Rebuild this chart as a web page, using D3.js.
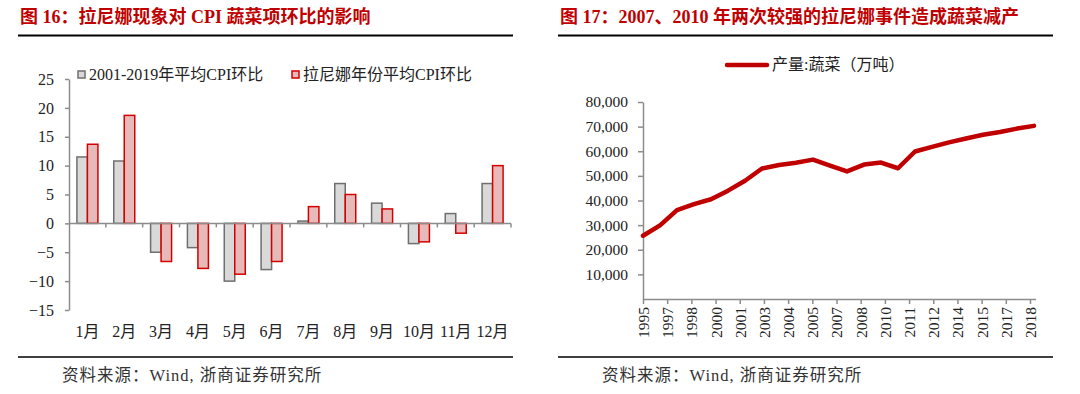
<!DOCTYPE html>
<html>
<head>
<meta charset="utf-8">
<script src="https://cdn.jsdelivr.net/npm/d3@7"></script>
<style>
  body { margin: 0; background: #fff; }
  svg { display: block; }
  text { font-family: "Liberation Serif", "Noto Sans CJK SC", serif; fill: #222; }
</style>
</head>
<body>
<svg id="chart" width="1080" height="394"></svg>
<script>
// left chart data
var months = ["1月", "2月", "3月", "4月", "5月", "6月", "7月", "8月", "9月", "10月", "11月", "12月"];
var avgCpi = [11.5, 10.8, -5.0, -4.2, -10.0, -8.0, 0.4, 6.9, 3.5, -3.5, 1.7, 6.9];
var ninaCpi = [13.7, 18.7, -6.6, -7.8, -8.8, -6.6, 2.9, 5.0, 2.5, -3.2, -1.7, 10.0];
var leftTicks = [-15, -10, -5, 0, 5, 10, 15, 20, 25];
var leftSeries = ["2001-2019年平均CPI环比", "拉尼娜年份平均CPI环比"];

// right chart data
var years = [1995, 1996, 1997, 1998, 1999, 2000, 2001, 2002, 2003, 2004, 2005, 2006,
             2007, 2008, 2009, 2010, 2011, 2012, 2013, 2014, 2015, 2016, 2017, 2018];
var vegOutput = [25700, 29900, 36100, 38500, 40500, 44000, 48000, 53000, 54400, 55300, 56600, 54200,
                 51800, 54600, 55400, 53100, 59900, 61800, 63600, 65200, 66700, 67800, 69200, 70300];
var yearLabels = ["1995", "1997", "1998", "2000", "2001", "2003", "2004", "2005", "2007",
                  "2008", "2010", "2011", "2012", "2014", "2015", "2017", "2018"];
var rightTicks = [10000, 20000, 30000, 40000, 50000, 60000, 70000, 80000];

var svg = d3.select("#chart");
var titleRed = "#c00000";

// titles, rules and sources
function panelFrame(x0, x1, title) {
  svg.append("text")
    .attr("x", x0 + 2).attr("y", 23)
    .style("font-size", "18px").style("font-weight", "bold").style("fill", titleRed)
    .text(title);
  svg.append("line")
    .attr("x1", x0).attr("x2", x1).attr("y1", 35.5).attr("y2", 35.5)
    .attr("stroke", "#000").attr("stroke-width", 2);
  svg.append("line")
    .attr("x1", x0).attr("x2", x1).attr("y1", 357).attr("y2", 357)
    .attr("stroke", "#000").attr("stroke-width", 1.5);
  svg.append("text")
    .attr("x", x0 + 44).attr("y", 381)
    .style("font-size", "16.5px").style("fill", "#333")
    .style("letter-spacing", "1px")
    .text("资料来源：Wind, 浙商证券研究所");
}
panelFrame(18, 513, "图 16：拉尼娜现象对 CPI 蔬菜项环比的影响");
panelFrame(558, 1053, "图 17：2007、2010 年两次较强的拉尼娜事件造成蔬菜减产");

// ---------- left: bar chart ----------
var x = d3.scaleBand().domain(months).range([69, 511]).padding(0);
var bw = x.bandwidth();
var xSub = d3.scaleBand().domain([0, 1]).range([bw * 0.215, bw * 0.785]).padding(0);
var y = d3.scaleLinear().domain([-15, 25]).range([310, 79]);

var axisColor = "#8c8c8c";

var yAxis = svg.append("g")
  .attr("transform", "translate(69,0)")
  .call(d3.axisLeft(y).tickValues(leftTicks).tickSize(4).tickSizeOuter(0).tickPadding(11));
yAxis.selectAll("path, line").attr("stroke", axisColor).attr("stroke-width", 1.5);
yAxis.selectAll("text").style("font-size", "16px").style("font-family", "Liberation Serif").attr("fill", "#222");

var fills = ["#d9d9d9", "#e8b9b9"];
var strokes = ["#6f6f6f", "#d40000"];
[avgCpi, ninaCpi].forEach(function(vals, s) {
  svg.append("g").selectAll("rect")
    .data(vals)
    .enter()
    .append("rect")
    .attr("x", function(d, i) { return x(months[i]) + xSub(s); })
    .attr("width", xSub.bandwidth())
    .attr("y", function(d) { return y(Math.max(0, d)); })
    .attr("height", function(d) { return Math.abs(y(d) - y(0)); })
    .attr("fill", fills[s])
    .attr("stroke", strokes[s])
    .attr("stroke-width", 1.5);
});

// zero line with category ticks
var xAxis = svg.append("g").attr("transform", "translate(0," + y(0) + ")");
xAxis.append("line")
  .attr("x1", 69).attr("x2", 511)
  .attr("stroke", axisColor).attr("stroke-width", 1.5);
xAxis.selectAll(".tk")
  .data(months.slice(1).concat(["end"]))
  .enter()
  .append("line")
  .attr("x1", function(d) { return d === "end" ? 511 : x(d); })
  .attr("x2", function(d) { return d === "end" ? 511 : x(d); })
  .attr("y1", 0).attr("y2", 4)
  .attr("stroke", axisColor).attr("stroke-width", 1.5);

svg.append("g").selectAll("text")
  .data(months)
  .enter()
  .append("text")
  .attr("x", function(d) { return x(d) + bw / 2; })
  .attr("y", 337)
  .attr("text-anchor", "middle")
  .style("font-size", "16px")
  .text(function(d) { return d; });

// legend
var legX = [78, 292];
leftSeries.forEach(function(name, s) {
  svg.append("rect")
    .attr("x", legX[s]).attr("y", 71)
    .attr("width", 7).attr("height", 7)
    .attr("fill", fills[s]).attr("stroke", strokes[s]).attr("stroke-width", 1.5);
  svg.append("text")
    .attr("x", legX[s] + 11).attr("y", 80)
    .style("font-size", "16px")
    .text(name);
});

// ---------- right: line chart ----------
var xr = d3.scaleLinear().domain([1995, 2018]).range([643, 1034]);
var xLab = d3.scalePoint().domain(yearLabels).range([643, 1030]);
var yr = d3.scaleLinear().domain([0, 80000]).range([299, 102]);

var yrAxis = svg.append("g")
  .attr("transform", "translate(643,0)")
  .call(d3.axisLeft(yr).tickValues(rightTicks).tickSize(5).tickSizeOuter(0).tickPadding(10)
    .tickFormat(d3.format(",")));
yrAxis.selectAll("path, line").attr("stroke", axisColor).attr("stroke-width", 1.5);
yrAxis.selectAll("text").style("font-size", "15.5px").style("font-family", "Liberation Serif").attr("fill", "#222");

var xrAxis = svg.append("g")
  .attr("transform", "translate(0,299)")
  .call(d3.axisBottom(xLab).tickSize(5).tickSizeOuter(0).tickPadding(0));
xrAxis.select(".domain").attr("d", "M643,0.5H1036");
xrAxis.selectAll("path, line").attr("stroke", axisColor).attr("stroke-width", 1.5);
xrAxis.selectAll("text")
  .style("font-size", "15.5px").style("font-family", "Liberation Serif").attr("fill", "#222")
  .attr("text-anchor", "end")
  .attr("transform", "rotate(-90)")
  .attr("x", -8).attr("y", 0).attr("dy", "0.35em");

var line = d3.line()
  .x(function(d, i) { return xr(years[i]); })
  .y(function(d) { return yr(d); });

svg.append("path")
  .datum(vegOutput)
  .attr("d", line)
  .attr("fill", "none")
  .attr("stroke", titleRed)
  .attr("stroke-width", 4.5)
  .attr("stroke-linejoin", "round")
  .attr("stroke-linecap", "round");

// legend
svg.append("line")
  .attr("x1", 727).attr("x2", 767).attr("y1", 65).attr("y2", 65)
  .attr("stroke", titleRed).attr("stroke-width", 4.5).attr("stroke-linecap", "round");
svg.append("text")
  .attr("x", 772).attr("y", 70)
  .style("font-size", "16px")
  .text("产量:蔬菜（万吨）");
</script>
</body>
</html>
